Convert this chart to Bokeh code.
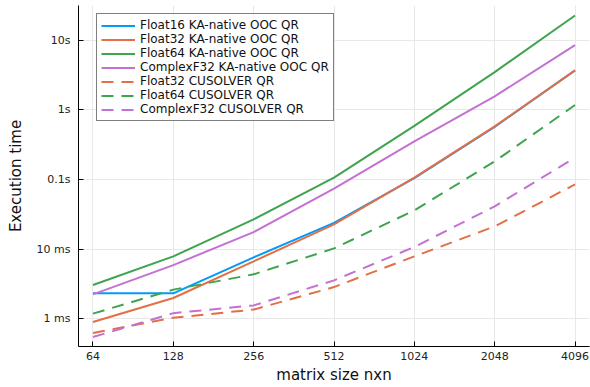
from bokeh.plotting import figure
from bokeh.models import FixedTicker, CustomJSTickFormatter, Legend, LegendItem, Range1d
from bokeh.embed import file_html
from bokeh.resources import INLINE

sizes = [64, 128, 256, 512, 1024, 2048, 4096]

float16_ka = [2.31e-3, 2.31e-3, 7.59e-3, 0.0237, 0.104, 0.567, 3.67]
float32_ka = [0.894e-3, 1.98e-3, 6.65e-3, 0.0226, 0.106, 0.577, 3.67]
float64_ka = [3.04e-3, 7.84e-3, 0.0267, 0.106, 0.586, 3.47, 22.6]
complexf32_ka = [2.23e-3, 5.88e-3, 0.0175, 0.0735, 0.351, 1.56, 8.48]
float32_cus = [0.621e-3, 1.03e-3, 1.35e-3, 2.84e-3, 7.84e-3, 0.0211, 0.0848]
float64_cus = [1.18e-3, 2.61e-3, 4.33e-3, 0.0102, 0.0359, 0.181, 1.17]
complexf32_cus = [0.544e-3, 1.20e-3, 1.55e-3, 3.55e-3, 0.0107, 0.041, 0.205]

y_ticks = [1e-3, 1e-2, 0.1, 1.0, 10.0]
y_labels = ["1 ms", "10 ms", "0.1s", "1s", "10s"]
x_labels = ["64", "128", "256", "512", "1024", "2048", "4096"]

series = [
    ("Float16 KA-native OOC QR", float16_ka, "#009AFA", "solid"),
    ("Float32 KA-native OOC QR", float32_ka, "#E36F47", "solid"),
    ("Float64 KA-native OOC QR", float64_ka, "#3EA44E", "solid"),
    ("ComplexF32 KA-native OOC QR", complexf32_ka, "#C371D2", "solid"),
    ("Float32 CUSOLVER QR", float32_cus, "#E36F47", "12 8"),
    ("Float64 CUSOLVER QR", float64_cus, "#3EA44E", "12 8"),
    ("ComplexF32 CUSOLVER QR", complexf32_cus, "#C371D2", "12 8"),
]

FONT = "DejaVu Sans"

p = figure(width=590, height=387, x_axis_type="log", y_axis_type="log",
           output_backend="svg", toolbar_location=None,
           x_range=Range1d(2 ** 5.82, 2 ** 12.18),
           y_range=Range1d(10 ** -3.40, 10 ** 1.497),
           min_border_left=78, min_border_right=1, min_border_top=5, min_border_bottom=41)
p.outline_line_color = None
p.background_fill_color = "white"

items = []
for name, vals, color, dash in series:
    r = p.line(sizes, vals, line_color=color, line_width=2, line_dash=dash)
    items.append(LegendItem(label=name, renderers=[r]))

p.xaxis.ticker = FixedTicker(ticks=sizes, minor_ticks=[])
p.yaxis.ticker = FixedTicker(ticks=y_ticks, minor_ticks=[])
p.xaxis.formatter = CustomJSTickFormatter(args=dict(t=sizes, l=x_labels), code="""
for (let i = 0; i < t.length; i++) { if (Math.abs(Math.log2(tick) - Math.log2(t[i])) < 1e-6) return l[i]; }
return '';
""")
p.yaxis.formatter = CustomJSTickFormatter(args=dict(t=y_ticks, l=y_labels), code="""
for (let i = 0; i < t.length; i++) { if (Math.abs(Math.log10(tick) - Math.log10(t[i])) < 1e-6) return l[i]; }
return '';
""")

for ax in (p.xaxis[0], p.yaxis[0]):
    ax.major_tick_in = 5
    ax.major_tick_out = 0
    ax.minor_tick_in = 0
    ax.minor_tick_out = 0
    ax.axis_line_color = "black"
    ax.major_tick_line_color = "black"
    ax.major_label_text_font = FONT
    ax.major_label_text_font_size = "11px"
    ax.major_label_text_color = "#222222"
    ax.axis_label_text_font = FONT
    ax.axis_label_text_font_size = "15px"
    ax.axis_label_text_font_style = "normal"
    ax.axis_label_text_color = "#111111"

p.xaxis.axis_label = "matrix size nxn"
p.yaxis.axis_label = "Execution time"
p.xaxis.major_label_standoff = 5
p.xaxis.axis_label_standoff = 3
p.yaxis.major_label_standoff = 8
p.yaxis.axis_label_standoff = 9

p.xgrid.grid_line_color = "#e8e8e8"
p.ygrid.grid_line_color = "#e8e8e8"
p.xgrid.grid_line_width = 1
p.ygrid.grid_line_width = 1

legend = Legend(items=items, location=(18, 225))
legend.label_text_font = FONT
legend.label_text_font_size = "12px"
legend.label_text_color = "#111111"
legend.label_height = 13
legend.glyph_height = 13
legend.glyph_width = 34
legend.spacing = 0
legend.padding = 4
legend.margin = 0
legend.label_standoff = 5
legend.border_line_color = "black"
legend.border_line_width = 1
legend.background_fill_color = "white"
legend.background_fill_alpha = 1.0
p.add_layout(legend, "center")

open("out.html", "w").write(file_html(p, INLINE))
